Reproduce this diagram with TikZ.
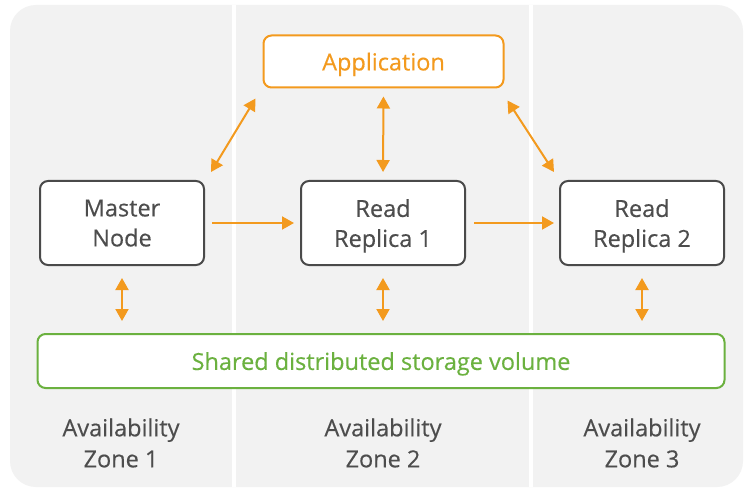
\documentclass[tikz,border=0pt]{standalone}
\usepackage{fontspec}
\setmainfont{Open Sans}[FakeBold=0.35]
\usetikzlibrary{arrows.meta,calc}
\definecolor{panel}{HTML}{F2F2F2}
\definecolor{awsorange}{HTML}{F39A1E}
\definecolor{awsgreen}{HTML}{6BB13F}
\definecolor{boxgray}{HTML}{4A4A4A}
\definecolor{txtgray}{HTML}{4D4D4D}
\tikzset{
  box/.style={draw=boxgray, line width=2pt, fill=white, rounded corners=8pt,
    minimum width=164pt, minimum height=84pt, align=center, text=txtgray,
    font=\fontsize{23.5}{30}\selectfont, inner sep=0pt, text depth=0pt},
  appbox/.style={draw=awsorange, line width=2pt, fill=white, rounded corners=8pt,
    minimum width=240pt, minimum height=52pt, text=awsorange,
    font=\fontsize{23.5}{28}\selectfont, inner sep=0pt, text depth=0pt},
  storebox/.style={draw=awsgreen, line width=2pt, fill=white, rounded corners=8pt,
    minimum width=687pt, minimum height=54pt, text=awsgreen,
    font=\fontsize{23.5}{28}\selectfont, inner sep=0pt, text depth=0pt},
  zone/.style={align=center, text=txtgray, font=\fontsize{23.5}{31}\selectfont, inner sep=0pt},
  link/.style={draw=awsorange, line width=2pt, -{Triangle[length=12pt,width=13pt]}},
  dlink/.style={draw=awsorange, line width=2pt, {Triangle[length=12pt,width=13pt]}-{Triangle[length=12pt,width=13pt]}},
  divider/.style={draw=white, line width=4pt}
}
\begin{document}
\begin{tikzpicture}[x=1pt,y=-1pt]
\useasboundingbox (0,0) rectangle (744,489);
\fill[white] (0,0) rectangle (744,489);
\fill[panel, rounded corners=26pt] (10,5) rectangle (743,487);
\draw[divider] (234,5) -- (234,487);
\draw[divider] (531,5) -- (531,487);

\node[appbox] (app) at (383.5,61.5) {Application};
\node[box] (master) at (122,223) {Master\\Node};
\node[box] (r1) at (383,223) {Read\\Replica 1};
\node[box] (r2) at (642,223) {Read\\Replica 2};
\node[storebox] (store) at (381,361) {Shared distributed storage volume};

\node[zone] (z1) at (121,443) {Availability\\Zone 1};
\node[zone] (z2) at (383,443) {Availability\\Zone 2};
\node[zone] (z3) at (642,443) {Availability\\Zone 3};

\draw[link, shorten <=7pt, shorten >=6pt] (master.east) -- (r1.west);
\draw[link, shorten <=8pt, shorten >=5pt] (r1.east) -- (r2.west);

\draw[dlink] ($(app.south west)+(-7,10)$) -- ($(master.north east)+(6,-8)$);
\draw[dlink, shorten <=8pt, shorten >=8pt] (app.south) -- (r1.north);
\draw[dlink] ($(app.south east)+(3,12)$) -- ($(r2.north west)+(-5,-8)$);

\draw[dlink, shorten <=12pt, shorten >=12pt] (master.south) -- (master.south |- store.north);
\draw[dlink, shorten <=12pt, shorten >=12pt] (r1.south) -- (r1.south |- store.north);
\draw[dlink, shorten <=12pt, shorten >=12pt] (r2.south) -- (r2.south |- store.north);
\end{tikzpicture}
\end{document}
